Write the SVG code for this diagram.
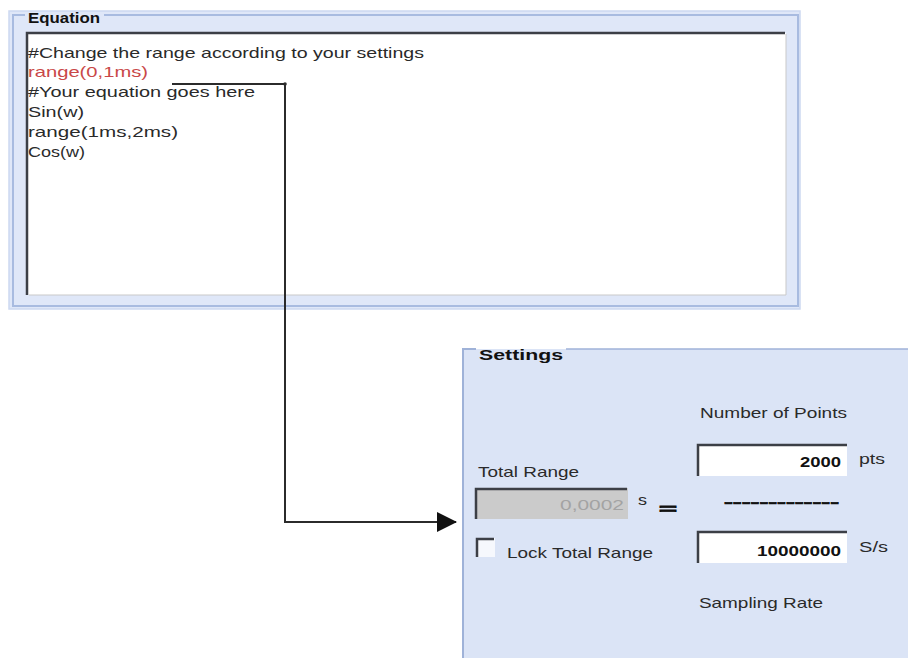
<svg xmlns="http://www.w3.org/2000/svg" width="908" height="658" viewBox="0 0 908 658">
<style>
.t{font-family:"Liberation Sans",Arial,sans-serif;font-size:15px;fill:#2a2a2a}
.b{font-weight:bold;fill:#111}
.frame{fill:none;stroke:#a8bbe0;stroke-width:2}
.sunk{fill:none;stroke:#3c3f46;stroke-width:2.5}
.conn{fill:none;stroke:#2b2b2b;stroke-width:2}
</style>
<defs>
<marker id="arr" markerWidth="20" markerHeight="20" refX="19" refY="10" orient="auto" markerUnits="userSpaceOnUse">
<path d="M0,0 L20,10 L0,20 Z" fill="#111"/>
</marker>
</defs>
<rect width="908" height="658" fill="#ffffff"/>

<g id="equation">
<rect x="9" y="11" width="791" height="298" fill="#dfe7f8" stroke="#cdd9f1" stroke-width="1.5"/>
<path class="frame" d="M25,15 H13 V306 H798 V15 H104"/>
<rect x="27" y="33" width="759" height="262" fill="#ffffff"/>
<path d="M786,34 V295 H29" fill="none" stroke="#c9c9c9" stroke-width="1"/>
<path class="sunk" d="M27,295 V33 H785"/>
<text class="t b" x="28" y="23" font-size="14" textLength="72" lengthAdjust="spacingAndGlyphs">Equation</text>
<text class="t" x="28" y="58" textLength="396" lengthAdjust="spacingAndGlyphs">#Change the range according to your settings</text>
<text class="t" x="28" y="77" style="fill:#c94848" textLength="120" lengthAdjust="spacingAndGlyphs">range(0,1ms)</text>
<text class="t" x="28" y="97" textLength="227" lengthAdjust="spacingAndGlyphs">#Your equation goes here</text>
<text class="t" x="28" y="117" textLength="56" lengthAdjust="spacingAndGlyphs">Sin(w)</text>
<text class="t" x="28" y="137" textLength="150" lengthAdjust="spacingAndGlyphs">range(1ms,2ms)</text>
<text class="t" x="28" y="157" textLength="57" lengthAdjust="spacingAndGlyphs">Cos(w)</text>
</g>

<g id="settings">
<rect x="463" y="349" width="446" height="310" fill="#dbe4f6"/>
<path d="M476,349 H463 V659" fill="none" stroke="#9fb2d8" stroke-width="2"/>
<path d="M566,349 H909" fill="none" stroke="#9fb2d8" stroke-width="1.5"/>
<text class="t b" x="479" y="360" font-size="17" textLength="84" lengthAdjust="spacingAndGlyphs">Settings</text>

<text class="t" x="700" y="418" textLength="147" lengthAdjust="spacingAndGlyphs">Number of Points</text>
<text class="t" x="478" y="477" textLength="101" lengthAdjust="spacingAndGlyphs">Total Range</text>

<rect x="475" y="488" width="153" height="31" fill="#cbcbcb"/>
<path class="sunk" d="M476,519 V489 H627"/>
<text class="t" x="624" y="510" text-anchor="end" style="fill:#a3a3a3" textLength="64" lengthAdjust="spacingAndGlyphs">0,0002</text>
<text class="t" x="638" y="505" textLength="9" lengthAdjust="spacingAndGlyphs">s</text>
<text class="t b" x="659" y="514" font-size="34" style="stroke:#111;stroke-width:0.8" textLength="18" lengthAdjust="spacingAndGlyphs">=</text>

<rect x="476" y="538" width="19" height="19" fill="#f6f8fd"/>
<path class="sunk" d="M477,557 V539 H494"/>
<text class="t" x="507" y="558" textLength="146" lengthAdjust="spacingAndGlyphs">Lock Total Range</text>

<rect x="697" y="444" width="150" height="32" fill="#ffffff"/>
<path class="sunk" d="M698,476 V445 H847"/>
<text class="t b" x="841" y="467" text-anchor="end" textLength="41" lengthAdjust="spacingAndGlyphs">2000</text>
<text class="t" x="859" y="464" textLength="26" lengthAdjust="spacingAndGlyphs">pts</text>

<text class="t b" x="724" y="507" font-size="20" style="stroke:#111;stroke-width:0.7" textLength="115" lengthAdjust="spacingAndGlyphs">-------------</text>

<rect x="697" y="531" width="150" height="32" fill="#ffffff"/>
<path class="sunk" d="M698,563 V532 H847"/>
<text class="t b" x="841" y="556" text-anchor="end" textLength="84" lengthAdjust="spacingAndGlyphs">10000000</text>
<text class="t" x="859" y="552" textLength="29" lengthAdjust="spacingAndGlyphs">S/s</text>

<text class="t" x="699" y="608" textLength="124" lengthAdjust="spacingAndGlyphs">Sampling Rate</text>
</g>

<g id="connectors">
<path class="conn" d="M172,84 H285 V522 H456" marker-end="url(#arr)"/>
<circle cx="285" cy="84" r="1.8" fill="#2b2b2b"/>
</g>
</svg>
